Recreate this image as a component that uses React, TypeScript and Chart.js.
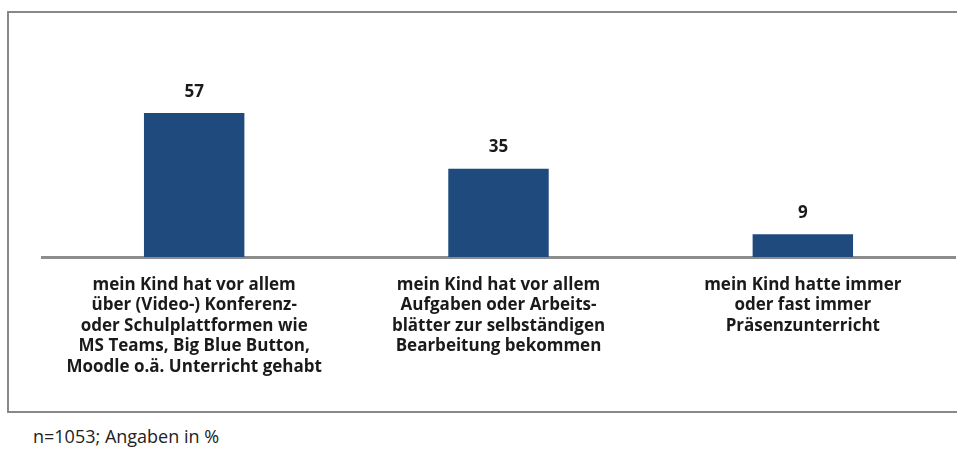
import React, { useEffect, useRef } from "react";
import { Chart, registerables } from "chart.js";

Chart.register(...registerables);

const categories: string[][] = [
  [
    "mein Kind hat vor allem",
    "über (Video-) Konferenz-",
    "oder Schulplattformen wie",
    "MS Teams, Big Blue Button,",
    "Moodle o.ä. Unterricht gehabt",
  ],
  [
    "mein Kind hat vor allem",
    "Aufgaben oder Arbeits-",
    "blätter zur selbständigen",
    "Bearbeitung bekommen",
  ],
  ["mein Kind hatte immer", "oder fast immer", "Präsenzunterricht"],
];
const values: number[] = [57, 35, 9];
const footnote = "n=1053; Angaben in %";

const BAR_COLOR = "#1F4A7E";
const FONT = "'Open Sans', Lato, sans-serif";

const valueLabels = {
  id: "valueLabels",
  afterDatasetsDraw(chart: any) {
    const ctx = chart.ctx;
    const meta = chart.getDatasetMeta(0);
    ctx.save();
    ctx.font = `bold 17px ${FONT}`;
    ctx.fillStyle = "#1a1a1a";
    ctx.textAlign = "center";
    ctx.textBaseline = "middle";
    meta.data.forEach((el: any, i: number) => {
      ctx.fillText(String(values[i]), el.x, el.y - 21);
    });
    ctx.restore();
  },
};

export default function App() {
  const ref = useRef<HTMLCanvasElement | null>(null);
  useEffect(() => {
    if (!ref.current) return;
    const chart = new Chart(ref.current, {
      type: "bar",
      data: {
        labels: categories,
        datasets: [
          {
            data: values,
            backgroundColor: BAR_COLOR,
            borderWidth: 0,
            barPercentage: 0.33,
            categoryPercentage: 1,
          },
        ],
      },
      options: {
        responsive: false,
        animation: false,
        layout: { padding: { left: 42, right: 2, top: 55, bottom: 55 } },
        plugins: {
          legend: { display: false },
          tooltip: { enabled: false },
          title: { display: false },
        },
        scales: {
          y: {
            display: false,
            min: 0,
            max: 80,
          },
          x: {
            grid: { display: false, drawTicks: false },
            border: { display: true, color: "#8c8c8c", width: 3 },
            ticks: {
              autoSkip: false,
              maxRotation: 0,
              minRotation: 0,
              padding: 18,
              color: "#1a1a1a",
              font: { family: FONT, size: 17, weight: "bold", lineHeight: 1.2 },
            },
          },
        },
      },
      plugins: [valueLabels],
    });
    return () => chart.destroy();
  }, []);

  return (
    <div
      style={{
        position: "fixed",
        left: 0,
        top: 0,
        width: 957,
        height: 450,
        overflow: "hidden",
        background: "#fff",
      }}
    >
      <div
        style={{
          position: "absolute",
          left: 7,
          top: 11,
          width: 960,
          height: 398,
          border: "2px solid #888",
          borderRight: "none",
        }}
      />
      <div
        style={{
          position: "absolute",
          left: 33,
          top: 426,
          fontFamily: FONT,
          fontSize: 18,
          color: "#222",
          whiteSpace: "nowrap",
          lineHeight: "20px",
        }}
      >
        {footnote}
      </div>
      <canvas
        ref={ref}
        width={957}
        height={450}
        style={{ position: "absolute", left: 0, top: 0 }}
      />
    </div>
  );
}
